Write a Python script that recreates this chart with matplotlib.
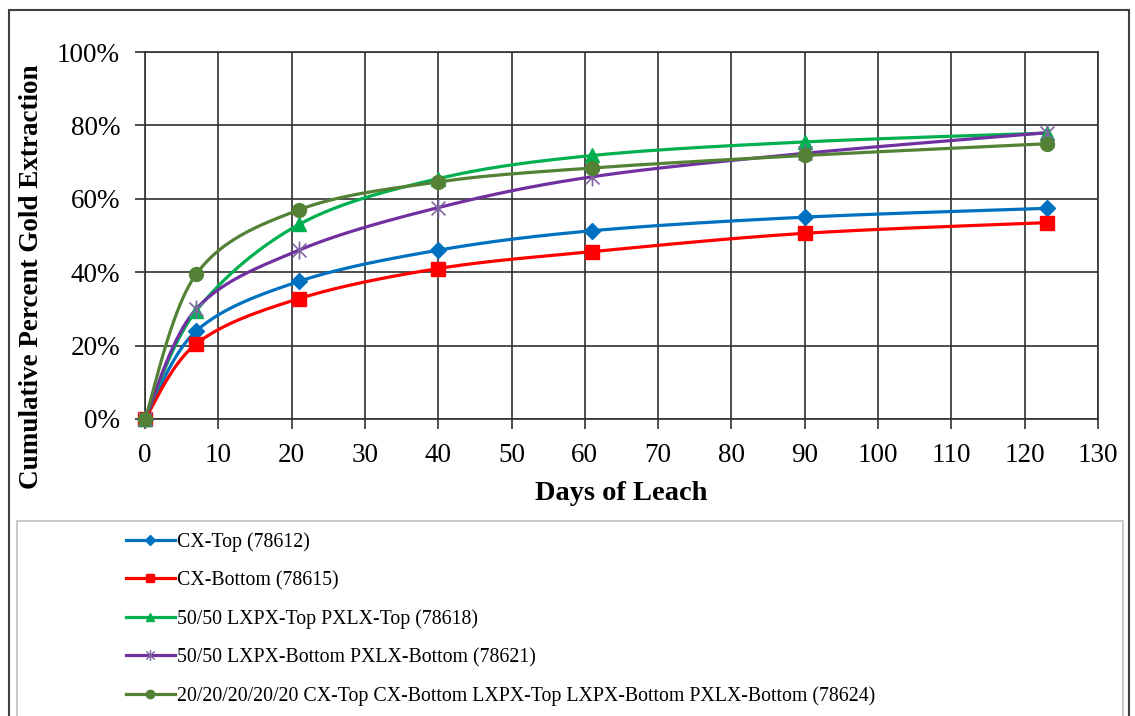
import matplotlib

matplotlib.use("Agg")
import matplotlib.pyplot as plt
import numpy as np
from matplotlib.patches import Rectangle
from matplotlib.path import Path
from matplotlib.ticker import FuncFormatter, MultipleLocator

plt.rcParams["font.family"] = ["Liberation Serif", "DejaVu Serif"]

days = [0, 7, 21, 40, 61, 90, 123]
cx_top = [0, 24.0, 37.5, 46.0, 51.3, 55.0, 57.4]
cx_bottom = [0, 20.5, 32.8, 41.0, 45.6, 50.6, 53.5]
lxpx_top = [0, 29.5, 53.0, 65.5, 71.8, 75.5, 77.9]
lxpx_bottom = [0, 30.0, 46.0, 57.6, 66.0, 72.4, 78.0]
blend = [0, 39.5, 57.0, 64.6, 68.4, 71.8, 75.0]

labels = [
    "CX-Top (78612)",
    "CX-Bottom (78615)",
    "50/50 LXPX-Top PXLX-Top (78618)",
    "50/50 LXPX-Bottom PXLX-Bottom (78621)",
    "20/20/20/20/20 CX-Top CX-Bottom LXPX-Top LXPX-Bottom PXLX-Bottom (78624)",
]
series = [cx_top, cx_bottom, lxpx_top, lxpx_bottom, blend]
colors = ["#0070C0", "#FF0000", "#00B050", "#7030A0", "#538135"]

star = Path(
    [(-1, -1), (1, 1), (-1, 1), (1, -1), (0, -1.3), (0, 1.3)],
    [Path.MOVETO, Path.LINETO, Path.MOVETO, Path.LINETO, Path.MOVETO, Path.LINETO],
)
markers = ["D", "s", "^", star, "o"]
msizes = [8, 10, 10, 13, 10]


def smooth(x, y, sx=7.33, sy=3.67, n=30):
    # Excel-style smoothed line: cubic Bezier segments, Catmull-Rom control points
    p = np.column_stack([np.asarray(x, float) * sx, np.asarray(y, float) * sy])
    out = [p[:1]]
    t = np.linspace(0, 1, n)[1:, None]
    for i in range(len(p) - 1):
        p0 = p[max(i - 1, 0)]
        p1, p2 = p[i], p[i + 1]
        p3 = p[min(i + 2, len(p) - 1)]
        c1 = p1 + (p2 - p0) / 6
        c2 = p2 - (p3 - p1) / 6
        seg = ((1 - t) ** 3) * p1 + 3 * ((1 - t) ** 2) * t * c1 + 3 * (1 - t) * t**2 * c2 + t**3 * p2
        out.append(seg)
    out = np.vstack(out)
    return out[:, 0] / sx, out[:, 1] / sy


fig = plt.figure(figsize=(11.35, 7.16), dpi=100)
W, H = 1135, 716
ax = fig.add_axes([145 / W, 1 - 419 / H, (1098 - 145) / W, (419 - 52) / H])

handles = []
for vals, c, m, ms, lab in zip(series, colors, markers, msizes, labels):
    sx, sy = smooth(days, vals)
    ax.plot(sx, sy, color=c, lw=2.3, zorder=3, clip_on=False)
    mfc = "none" if m is star else c
    mec = "#8064A2" if m is star else c
    ax.plot(days, vals, ls="none", marker=m, ms=ms, color=c, mfc=mfc, mec=mec,
            mew=1.2 if m is star else 1, zorder=4, clip_on=False)
    (h,) = ax.plot([], [], color=c, lw=2.3, marker=m, ms=ms * 0.6, mfc=mfc, mec=mec,
                   mew=1.0, label=lab)
    handles.append(h)

ax.set_xlim(0, 130)
ax.set_ylim(0, 100)
ax.xaxis.set_major_locator(MultipleLocator(10))
ax.yaxis.set_major_locator(MultipleLocator(20))
ax.yaxis.set_major_formatter(FuncFormatter(lambda v, _: f"{v:.0f}%"))
ax.grid(color="#303030", lw=1.2, zorder=0)
ax.set_axisbelow(True)
for s in ax.spines.values():
    s.set_color("#303030")
    s.set_linewidth(1.2)
ax.tick_params(direction="out", length=7, width=1.2, color="#303030", labelsize=19.5)
ax.tick_params(axis="y", pad=11)
ax.tick_params(axis="x", pad=10)

ax.set_xlabel("Days of Leach", fontsize=20.5, fontweight="bold", labelpad=10)
ax.set_ylabel("Cumulative Percent Gold Extraction", fontsize=19.5, fontweight="bold")
ax.yaxis.set_label_coords(-0.106, 0.387)

# outer chart border and legend box
fig.patches.append(Rectangle((9 / W, -0.02), (1129 - 9) / W, 1 - 10 / H + 0.02,
                             transform=fig.transFigure, fill=False, ec="#404040", lw=1.5))
fig.patches.append(Rectangle((17 / W, -0.02), (1123 - 17) / W, 1 - 521 / H + 0.02,
                             transform=fig.transFigure, fill=False, ec="#BFBFBF", lw=1.2))

fig.legend(handles=handles, loc="upper left", bbox_to_anchor=(118 / W, 1 - 524 / H),
           frameon=False, fontsize=14.3, handlelength=2.45, handletextpad=0.12,
           labelspacing=0.96, borderaxespad=0)

plt.savefig("out.png", dpi=100)
